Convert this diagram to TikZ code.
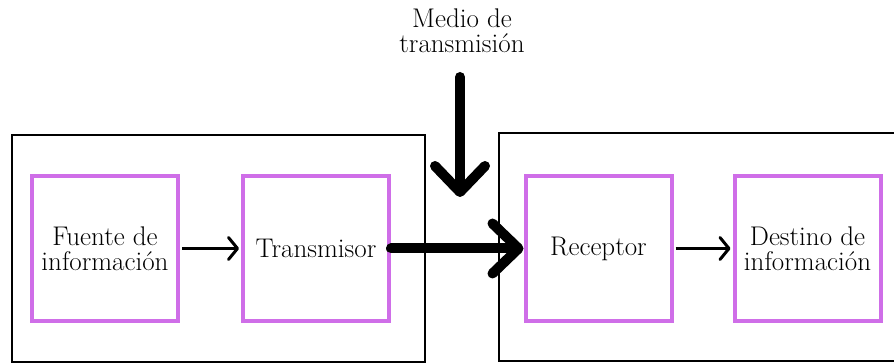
\documentclass[tikz,border=0pt]{standalone}
\usepackage{fontspec}
\usepackage{xcolor}
\usepackage{tikz}
\usetikzlibrary{arrows.meta,positioning}
\definecolor{lila}{RGB}{207,110,232}
\tikzset{bloque/.style={draw=lila,line width=4pt,minimum width=146pt,minimum height=145pt,inner sep=0pt,align=center,font=\fontsize{27}{25}\selectfont},marco/.style={draw,line width=1.8pt},flecha/.style={line width=3pt,-{Straight Barb[round,length=9pt,width=22pt]}},flecha gruesa/.style={line width=10pt,line cap=round,-{Straight Barb[round,length=26pt,width=50pt]}}}

\begin{document}
\begin{tikzpicture}[x=1pt,y=1pt]
				\useasboundingbox (0,0) rectangle (894,364);
				\def\yb{115.5}
				\draw[marco] (12,2) rectangle (425,229);
				\draw[marco] (894,231) -- (499,231) -- (499,3) -- (894,3);

				\node[bloque] (fuente) at (105,\yb) {Fuente de\\información};
				\node[bloque] (transmisor) at (316,\yb) {Transmisor};
				\node[bloque] (receptor) at (598.5,\yb) {Receptor};
				\node[bloque] (destino) at (807.5,\yb) {Destino de\\información};
				\node[align=center,font=\fontsize{27}{25}\selectfont] (medio) at (462,333) {Medio de\\transmisión};

				\coordinate (arriba) at (460,287);
				\coordinate (abajo) at (460,167);
				\draw[flecha,shorten <=2pt,shorten >=2pt] (fuente) -- (transmisor);
				\draw[flecha,shorten <=2pt,shorten >=2pt] (receptor) -- (destino);
				\draw[flecha gruesa] (transmisor.east) -- (receptor.west);
				\draw[flecha gruesa] (arriba) -- (abajo);
			\end{tikzpicture}
\end{document}
